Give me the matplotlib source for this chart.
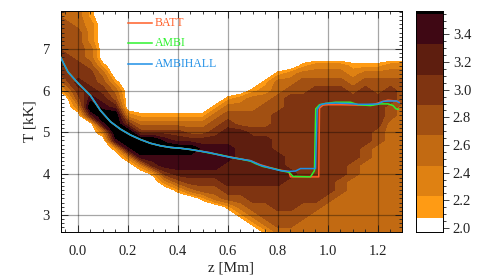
import numpy as np
import matplotlib
matplotlib.use('Agg')
import matplotlib.pyplot as plt
from matplotlib.ticker import MultipleLocator

plt.rcParams['font.family'] = ['Liberation Serif', 'DejaVu Serif']

# histogram bins: z columns (Mm) and T rows (kK), top row first
z_bins = np.arange(-0.10, 1.301, 0.05)
T_bins = np.arange(8.0, 2.59, -0.2)

# band index for each z column, from T=8.0 down to T=2.6
# 0 = empty, 1..7 = colour bands, 8 = above top level
band_columns = [
    "4444555542" + "0" * 18,
    "33444455542" + "0" * 17,
    "3334444556542" + "0" * 15,
    "11222334556786" + "0" * 14,
    "0000000134567872" + "0" * 12,
    "000000000134688871" + "0" * 10,
    "0" * 13 + "258872" + "0" * 9,
    "0" * 13 + "1358872" + "0" * 8,
    "0" * 13 + "13588761" + "0" * 7,
    "0" * 13 + "135787752" + "0" * 6,
    "0" * 13 + "1356877641" + "0" * 5,
    "0" * 13 + "1346877653" + "0" * 5,
    "0" * 13 + "13467776541" + "0" * 4,
    "0" * 12 + "134567776543" + "0" * 4,
    "0" * 11 + "13456677666541" + "0" * 3,
    "0" * 11 + "234466666665431" + "0" * 2,
    "0" * 10 + "13344566666655431" + "0",
    "0" * 9 + "1234445666666554431",
    "0" * 8 + "13344555556666555443",
    "0" * 8 + "23455555555565555443",
    "0" * 7 + "1344" + "5" * 13 + "4433",
    "0" * 7 + "2345" + "5" * 13 + "4333",
    "0" * 7 + "2345" + "5" * 12 + "43333",
    "0" * 7 + "234" + "5" * 11 + "44" + "3" * 5,
    "0" * 7 + "1234" + "5" * 8 + "44" + "3" * 7,
    "0" * 7 + "1345" + "5" * 6 + "44" + "3" * 9,
    "0" * 7 + "1344" + "5555" + "44" + "3" * 11,
    "0" * 7 + "2345" + "5" + "44" + "3" * 14,
    "0" * 7 + "23444" + "3" * 16,
]
band_value = np.array([1.85, 2.15, 2.34, 2.56, 2.78, 3.00, 3.22, 3.44, 3.80])

levels = [1.97, 2.07, 2.23, 2.45, 2.67, 2.89, 3.11, 3.33, 3.55, 4.0]
band_colors = ['#ffffff', '#ff9b14', '#df8112', '#c26a12', '#a25012',
               '#7f3411', '#5e1e0f', '#3f0814', '#000000']
cbar_ticks = [2.0, 2.2, 2.4, 2.6, 2.8, 3.0, 3.2, 3.4]

# temperature profiles
batt_z = [-0.07, -0.04, 0.0, 0.05, 0.09, 0.13, 0.17, 0.21, 0.25, 0.29, 0.33, 0.37,
          0.41, 0.45, 0.49, 0.53, 0.57, 0.61, 0.65, 0.69, 0.73, 0.77, 0.81, 0.843,
          0.85, 0.963, 0.966, 0.98, 1.0, 1.05, 1.12, 1.18, 1.21, 1.24, 1.27, 1.285]
batt_T = [6.81, 6.45, 6.18, 5.88, 5.52, 5.25, 5.07, 4.93, 4.82, 4.73, 4.67, 4.63,
          4.61, 4.58, 4.54, 4.50, 4.44, 4.40, 4.35, 4.31, 4.21, 4.14, 4.08, 4.05,
          3.92, 3.92, 5.58, 5.65, 5.66, 5.66, 5.65, 5.66, 5.72, 5.77, 5.75, 5.72]
ambi_z = [-0.07, -0.04, 0.0, 0.05, 0.09, 0.13, 0.17, 0.21, 0.25, 0.29, 0.33, 0.37,
          0.41, 0.45, 0.49, 0.53, 0.57, 0.61, 0.65, 0.69, 0.71, 0.74, 0.78, 0.82,
          0.845, 0.86, 0.93, 0.946, 0.951, 0.966, 0.99, 1.03, 1.09, 1.12, 1.17,
          1.21, 1.24, 1.26, 1.272, 1.281]
ambi_T = [6.81, 6.45, 6.18, 5.88, 5.52, 5.25, 5.07, 4.93, 4.82, 4.73, 4.67, 4.63,
          4.61, 4.58, 4.54, 4.49, 4.45, 4.39, 4.35, 4.30, 4.24, 4.17, 4.12, 4.06,
          4.03, 3.93, 3.92, 4.07, 5.56, 5.66, 5.69, 5.72, 5.72, 5.66, 5.64,
          5.68, 5.68, 5.64, 5.56, 5.55]
hall_z = [-0.07, -0.04, 0.0, 0.05, 0.09, 0.13, 0.17, 0.21, 0.25, 0.29, 0.33, 0.37,
          0.41, 0.45, 0.49, 0.53, 0.57, 0.61, 0.65, 0.69, 0.73, 0.77, 0.81, 0.84,
          0.87, 0.89, 0.95, 0.957, 0.97, 0.99, 1.03, 1.08, 1.12, 1.16, 1.2, 1.22,
          1.25, 1.275, 1.285]
hall_T = [6.81, 6.45, 6.18, 5.88, 5.52, 5.25, 5.07, 4.93, 4.82, 4.73, 4.67, 4.63,
          4.61, 4.58, 4.54, 4.50, 4.44, 4.39, 4.35, 4.31, 4.20, 4.13, 4.07, 4.05,
          4.06, 4.12, 4.12, 5.55, 5.66, 5.69, 5.70, 5.69, 5.67, 5.67, 5.68, 5.74,
          5.75, 5.75, 5.71]

series = [('BATT', batt_z, batt_T, '#ff5f28'),
          ('AMBI', ambi_z, ambi_T, '#2ef22e'),
          ('AMBIHALL', hall_z, hall_T, '#1e8fe6')]

bands = np.array([[int(c) for c in col] for col in band_columns]).T
field = band_value[bands]

fig = plt.figure(figsize=(4.91, 2.76), dpi=100)
ax = fig.add_axes([0.1242, 0.1594, 0.6945, 0.8007])
cax = fig.add_axes([0.8473, 0.1594, 0.055, 0.8007])

ax.contourf(z_bins, T_bins, field, levels=levels, colors=band_colors,
            antialiased=False)

for x in [0.0, 0.2, 0.4, 0.6, 0.8, 1.0, 1.2]:
    ax.axvline(x, color='black', alpha=0.35, lw=0.9, zorder=2)
for y in [3, 4, 5, 6, 7]:
    ax.axhline(y, color='black', alpha=0.35, lw=0.9, zorder=2)

for name, zs, ts, col in series:
    ax.plot(zs, ts, color=col, lw=1.1, zorder=3)

# legend drawn as in the original: short line + coloured name
for i, (name, zs, ts, col) in enumerate(series):
    yy = 0.946 - i * 0.093
    ax.plot([0.196, 0.267], [yy, yy], color=col, lw=1.1,
            transform=ax.transAxes, zorder=4)
    ax.text(0.276, yy, name, color=col, fontsize=8.5, va='center',
            ha='left', transform=ax.transAxes, zorder=4)

ax.set_xlim(-0.068, 1.296)
ax.set_ylim(2.59, 7.92)
ax.xaxis.set_major_locator(MultipleLocator(0.2))
ax.xaxis.set_minor_locator(MultipleLocator(0.05))
ax.yaxis.set_major_locator(MultipleLocator(1))
ax.yaxis.set_minor_locator(MultipleLocator(0.1))
ax.xaxis.set_major_formatter(plt.FuncFormatter(lambda v, p: '%.1f' % v))
ax.tick_params(which='both', direction='in', top=True, right=True,
               labelsize=10.5, width=0.6, colors='#222222')
ax.tick_params(axis='x', which='major', length=5, pad=9)
ax.tick_params(axis='y', which='major', length=5, pad=8)
ax.tick_params(which='minor', length=2.5)
ax.set_xlabel('z [Mm]', fontsize=11, labelpad=3, color='#222222')
ax.set_ylabel('T [kK]', fontsize=11, labelpad=4, color='#222222')
for s in ax.spines.values():
    s.set_linewidth(0.7)

# colour bar
for lo, hi, col in zip(levels[:-1], levels[1:], band_colors):
    cax.axhspan(lo, hi, color=col, lw=0)
cax.set_ylim(1.97, 3.57)
cax.set_xlim(0, 1)
cax.set_xticks([])
cax.yaxis.tick_right()
cax.set_yticks(cbar_ticks)
cax.set_yticklabels(['%.1f' % t for t in cbar_ticks])
cax.yaxis.set_minor_locator(MultipleLocator(0.05))
cax.tick_params(axis='y', which='both', direction='out', labelsize=10.5,
                width=0.6, colors='#222222')
cax.tick_params(axis='y', which='major', length=4, pad=3)
cax.tick_params(axis='y', which='minor', length=2)
for s in cax.spines.values():
    s.set_linewidth(0.7)

fig.savefig('out.png', dpi=100)
